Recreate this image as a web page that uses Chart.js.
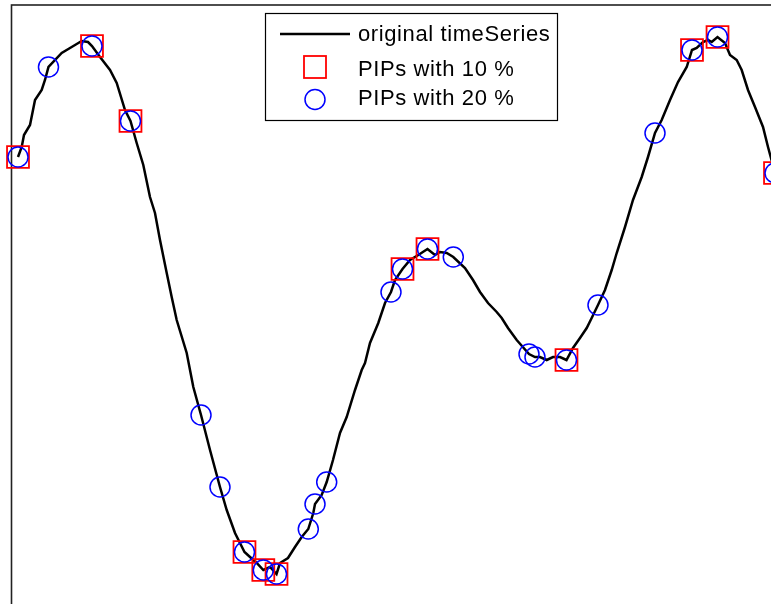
<!DOCTYPE html>
<html>
<head>
<meta charset="utf-8">
<script src="https://cdn.jsdelivr.net/npm/chart.js@4/dist/chart.umd.min.js"></script>
<style>
  html, body { margin: 0; padding: 0; background: #ffffff; overflow: hidden; }
  #wrap { width: 771px; height: 604px; overflow: hidden; position: relative; }
  canvas { display: block; position: absolute; left: 0; top: 0; }
</style>
</head>
<body>
<div id="wrap"><canvas id="chart" width="795" height="615"></canvas></div>
<script>
// Time axis of the original series
const timeSteps = [
  2.0, 3.06, 3.71, 5.43, 6.86, 8.77, 9.71, 10.71, 14.49, 17.34,
  20.2, 22.0, 23.14, 25.43, 28.29, 30.2, 32.57, 34.14, 35.91, 37.8,
  39.71, 41.14, 42.57, 44.49, 45.91, 47.34, 50.2, 52.09, 54.29, 56.86,
  59.71, 61.63, 64.0, 66.71, 68.29, 70.2, 72.09, 74.0, 75.86, 76.86,
  79.14, 81.14, 83.06, 84.94, 86.37, 86.86, 88.77, 90.2, 92.0, 94.0,
  95.91, 98.29, 100.2, 101.14, 102.57, 104.94, 106.86, 108.57, 109.71, 111.86,
  114.0, 116.37, 119.0, 121.14, 122.57, 124.49, 126.37, 129.71, 132.0, 134.0,
  136.29, 138.77, 140.2, 142.0, 144.49, 148.0, 149.71, 151.14, 153.06, 154.86,
  156.86, 158.71, 160.57, 162.57, 164.49, 165.91, 167.71, 169.71, 171.63, 173.06,
  175.43, 177.71, 180.2, 182.0, 184.0, 185.91, 188.29, 190.57, 193.06, 194.57,
  195.91, 197.71, 199.14, 200.2, 201.86, 204.0, 205.43, 207.34, 208.77, 210.57,
  212.57, 214.86, 216.29, 218.29, 220.5
];

// Values of the original series
const seriesValues = [
  4.48, 4.58, 4.70, 4.80, 5.05, 5.15, 5.25, 5.38, 5.52, 5.58,
  5.64, 5.63, 5.59, 5.48, 5.35, 5.22, 4.95, 4.84, 4.62, 4.40,
  4.08, 3.92, 3.65, 3.32, 3.08, 2.85, 2.52, 2.18, 1.90, 1.55,
  1.18, 0.95, 0.72, 0.53, 0.48, 0.42, 0.35, 0.38, 0.31, 0.42,
  0.47, 0.58, 0.68, 0.76, 0.92, 1.01, 1.10, 1.23, 1.45, 1.72,
  1.88, 2.15, 2.35, 2.42, 2.62, 2.82, 3.02, 3.13, 3.25, 3.36,
  3.45, 3.50, 3.56, 3.50, 3.53, 3.52, 3.48, 3.37, 3.25, 3.13,
  3.02, 2.93, 2.87, 2.77, 2.65, 2.51, 2.48, 2.48, 2.45, 2.48,
  2.48, 2.45, 2.57, 2.67, 2.77, 2.87, 3.00, 3.15, 3.35, 3.52,
  3.78, 4.05, 4.28, 4.48, 4.72, 4.85, 5.05, 5.23, 5.38, 5.55,
  5.57, 5.63, 5.65, 5.63, 5.68, 5.62, 5.50, 5.45, 5.35, 5.15,
  4.98, 4.78, 4.58, 4.32, 4.00
];

// Perceptually important points, given as times on the series
const pips10Times = [2.0, 23.14, 34.14, 66.71, 72.09, 75.86, 111.86, 119.0, 158.71, 194.57, 201.86, 218.29];
const pips20Times = [2.0, 10.71, 23.14, 34.14, 54.29, 59.71, 66.71, 72.09, 75.86, 84.94, 86.86, 90.2,
                     108.57, 111.86, 119.0, 126.37, 148.0, 149.71, 158.71, 167.71, 184.0, 194.57, 201.86, 218.29];

const seriesLabels = ['original timeSeries', 'PIPs with 10 %', 'PIPs with 20 %'];

const seriesPoints = timeSteps.map((t, i) => ({ x: t, y: seriesValues[i] }));

// Pick the series samples at the given times
function pointsAt(times) {
  return times.map(t => {
    let best = 0;
    for (let i = 1; i < timeSteps.length; i++) {
      if (Math.abs(timeSteps[i] - t) < Math.abs(timeSteps[best] - t)) best = i;
    }
    return { x: timeSteps[best], y: seriesValues[best] };
  });
}

const FONT = '22px "Liberation Sans", Arial, Helvetica, sans-serif';

// Axes box (top and left edges fall inside the view)
const framePlugin = {
  id: 'frame',
  beforeDatasetsDraw(chart) {
    const { ctx, chartArea: a } = chart;
    ctx.save();
    ctx.strokeStyle = '#222222';
    ctx.lineWidth = 1.6;
    ctx.strokeRect(a.left + 0.5, a.top, a.right - a.left, a.bottom - a.top);
    ctx.restore();
  }
};

// Boxed legend in the upper middle of the axes
const boxLegendPlugin = {
  id: 'boxLegend',
  afterDraw(chart) {
    const { ctx } = chart;
    const ds = chart.data.datasets;
    const box = { x: 265, y: 13, w: 292, h: 107 };
    ctx.save();
    ctx.fillStyle = '#ffffff';
    ctx.fillRect(box.x, box.y, box.w, box.h);
    ctx.strokeStyle = '#000000';
    ctx.lineWidth = 1.2;
    ctx.strokeRect(box.x + 0.5, box.y + 0.5, box.w, box.h);

    const rows = [34, 67, 99.5];
    const baselines = [41, 76, 105];
    const sampleX = 315;
    const textX = 358;

    // line sample
    ctx.strokeStyle = ds[0].borderColor;
    ctx.lineWidth = ds[0].borderWidth;
    ctx.beginPath();
    ctx.moveTo(280, rows[0]);
    ctx.lineTo(350, rows[0]);
    ctx.stroke();

    // square sample
    ctx.strokeStyle = ds[1].pointBorderColor;
    ctx.lineWidth = ds[1].pointBorderWidth;
    ctx.strokeRect(sampleX - 11, rows[1] - 11, 22, 22);

    // circle sample
    ctx.strokeStyle = ds[2].pointBorderColor;
    ctx.lineWidth = ds[2].pointBorderWidth;
    ctx.beginPath();
    ctx.arc(sampleX, rows[2], 10, 0, Math.PI * 2);
    ctx.stroke();

    ctx.fillStyle = '#000000';
    ctx.font = FONT;
    if ('letterSpacing' in ctx) ctx.letterSpacing = '0.6px';
    ctx.textAlign = 'left';
    ctx.textBaseline = 'alphabetic';
    ds.forEach((d, i) => ctx.fillText(d.label, textX, baselines[i]));
    ctx.restore();
  }
};

new Chart(document.getElementById('chart'), {
  type: 'line',
  data: {
    datasets: [
      {
        label: seriesLabels[0],
        data: seriesPoints,
        borderColor: '#000000',
        borderWidth: 2.5,
        pointRadius: 0,
        tension: 0,
        fill: false,
        order: 3,
        clip: false
      },
      {
        label: seriesLabels[1],
        data: pointsAt(pips10Times),
        showLine: false,
        pointStyle: 'rect',
        pointRadius: 15.5,
        pointBorderColor: '#ff0000',
        pointBackgroundColor: 'rgba(0,0,0,0)',
        pointBorderWidth: 1.8,
        order: 2,
        clip: false
      },
      {
        label: seriesLabels[2],
        data: pointsAt(pips20Times),
        showLine: false,
        pointStyle: 'circle',
        pointRadius: 10,
        pointBorderColor: '#0000ff',
        pointBackgroundColor: 'rgba(0,0,0,0)',
        pointBorderWidth: 1.5,
        order: 1,
        clip: false
      }
    ]
  },
  options: {
    responsive: false,
    animation: false,
    devicePixelRatio: 1,
    layout: { autoPadding: false, padding: { left: 11, top: 5, right: 0, bottom: 0 } },
    plugins: { legend: { display: false }, tooltip: { enabled: false } },
    elements: { point: { hoverRadius: 0 } },
    scales: {
      x: { type: 'linear', min: 0, max: 224, display: false },
      y: { type: 'linear', min: -0.1, max: 6.0, display: false }
    }
  },
  plugins: [framePlugin, boxLegendPlugin]
});
</script>
</body>
</html>
